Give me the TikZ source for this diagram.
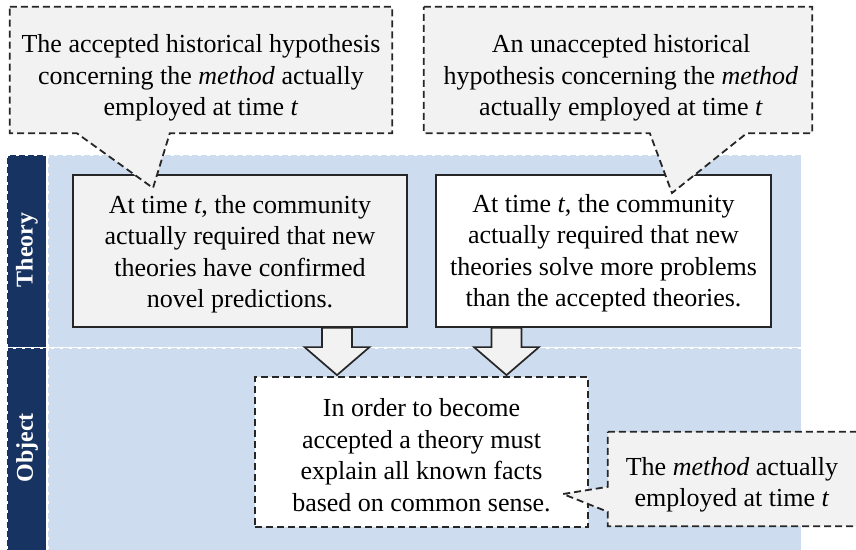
\documentclass[tikz,border=0pt]{standalone}
\usepackage{fontspec}
\setmainfont{Liberation Serif}
\usetikzlibrary{calc}

\definecolor{lanenavy}{RGB}{23,51,98}
\definecolor{laneblue}{RGB}{205,220,238}
\definecolor{boxgray}{RGB}{242,242,242}

\tikzset{
  bodytext/.style={font=\fontsize{26}{31.5}\selectfont, align=center, inner sep=0pt},
  lanebar/.style={fill=lanenavy, draw=white, line width=0.9pt, dash pattern=on 3pt off 6pt},
  lanebody/.style={fill=laneblue, draw=white, line width=0.9pt, dash pattern=on 3pt off 6pt},
  lanetitle/.style={text=white, font=\fontsize{24}{26}\selectfont\bfseries, rotate=90},
  solidbox/.style={draw=black!85, line width=1.7pt, minimum width=334pt, minimum height=152pt},
  dashbox/.style={draw=black!85, line width=1.8pt, dash pattern=on 7pt off 4pt},
  calloutline/.style={draw=black!85, fill=boxgray, line width=1.8pt, dash pattern=on 7pt off 4pt, line join=miter},
  blockarrow/.style={draw=black!85, fill=boxgray, line width=1.7pt, line join=miter},
}

\begin{document}
\begin{tikzpicture}[x=1pt,y=-1pt]
\useasboundingbox (0,0) rectangle (856,549);
\fill[white] (0,0) rectangle (856,549);

% swim lanes
\path[lanebar]  (7,155) rectangle (46,347);
\path[lanebody] (48,155) rectangle (801,347);
\path[lanebar]  (7,348) rectangle (46,552);
\path[lanebody] (48,348) rectangle (801,552);
\draw[white, line width=1.2pt, dash pattern=on 6pt off 2pt] (7,347.5) -- (801,347.5);
\node[lanetitle] (laneT) at (27,250) {Theory};
\node[lanetitle] (laneO) at (27,448) {Object};

% theory-level requirements
\node[solidbox, fill=boxgray] (t1) at (240,251) {};
\node[bodytext] at ($(t1.center)+(0,3)$) {At time \textit{t}, the community\\actually required that new\\theories have confirmed\\novel predictions.};
\node[solidbox, fill=white, minimum width=335pt] (t2) at (603.5,251) {};
\node[bodytext] at ($(t2.center)+(0,2)$) {At time \textit{t}, the community\\actually required that new\\theories solve more problems\\than the accepted theories.};

% object-level method
\node[dashbox, fill=white, minimum width=333pt, minimum height=150pt] (obj) at (421.5,452) {};
\node[bodytext] at ($(obj.center)+(0,3)$) {In order to become\\accepted a theory must\\explain all known facts\\based on common sense.};

% block arrows from the theory boxes down to the method
\coordinate (ax1) at (337,0);
\coordinate (ax2) at (506.5,0);
\foreach \ax in {ax1,ax2}{
  \draw[blockarrow] let \p1=(t1.south -| \ax), \p2=(obj.north -| \ax) in
    (\x1-15pt,\y1) -- (\x1+15pt,\y1) -- (\x1+15pt,\y2+29pt) -- (\x1+32.5pt,\y2+29pt)
    -- (\x1,\y2+1pt) -- (\x1-32.5pt,\y2+29pt) -- (\x1-15pt,\y2+29pt) -- cycle;
}

% historical hypotheses (callouts)
\node[minimum width=382pt, minimum height=126pt, inner sep=0pt] (c1) at (201,70) {};
\coordinate (c1tip) at (153,188);
\path[calloutline] (c1.north west) -- (c1.north east) -- (c1.south east)
  -- ($(c1.south west)+(160,0)$) -- (c1tip) -- ($(c1.south west)+(67,0)$)
  -- (c1.south west) -- cycle;
\node[bodytext] at ($(c1.center)+(0,8)$) {The accepted historical hypothesis\\concerning the \textit{method} actually\\employed at time \textit{t}};

\node[minimum width=388pt, minimum height=126pt, inner sep=0pt] (c2) at (618,70) {};
\coordinate (c2tip) at (672,193);
\path[calloutline] (c2.north west) -- (c2.north east) -- (c2.south east)
  -- ($(c2.south west)+(323,0)$) -- (c2tip) -- ($(c2.south west)+(226,0)$)
  -- (c2.south west) -- cycle;
\node[bodytext] at ($(c2.center)+(3,8)$) {An unaccepted historical\\hypothesis concerning the \textit{method}\\actually employed at time \textit{t}};

% the method itself
\node[minimum width=262pt, minimum height=94pt, inner sep=0pt] (c3) at (739,479) {};
\coordinate (c3tip) at (563,494);
\path[calloutline] (c3.north west) -- (c3.north east) -- (c3.south east)
  -- (c3.south west) -- ($(c3.north west)+(0,80)$) -- (c3tip)
  -- ($(c3.north west)+(0,55)$) -- cycle;
\node[bodytext] at (732,485) {The \textit{method} actually\\employed at time \textit{t}};
\end{tikzpicture}
\end{document}
